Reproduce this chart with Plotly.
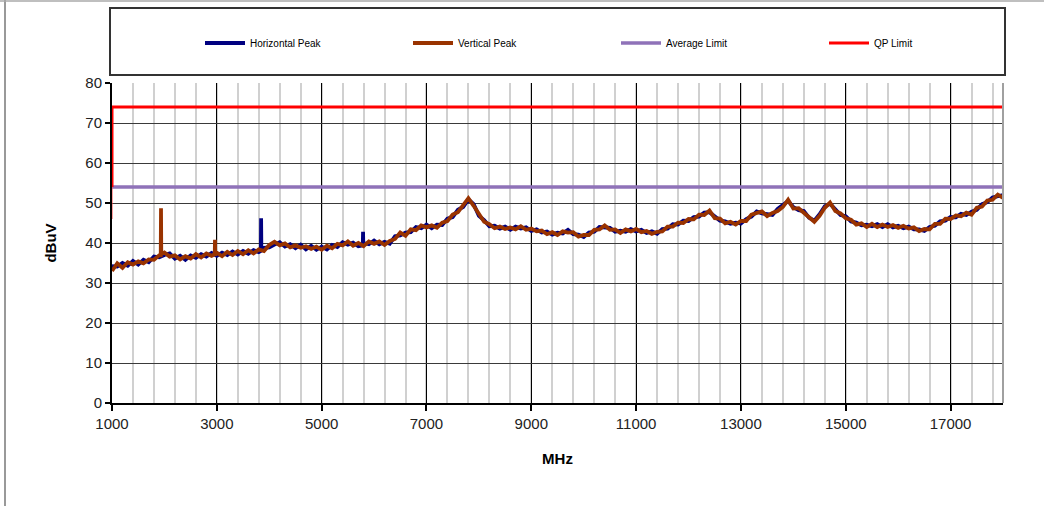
import plotly.graph_objects as go

# ---------------- data ----------------
FREQ_MHZ = list(range(1000, 18001, 100))

VERTICAL_PEAK = [
    33.0, 34.9, 33.8, 35.2, 34.6, 35.4, 34.9, 35.9, 35.8, 36.9,
    37.6, 36.6, 36.9, 35.9, 36.7, 36.1, 37.2, 36.4, 37.4, 36.8,
    37.6, 36.7, 37.8, 37.0, 38.0, 37.2, 38.2, 37.4, 38.4, 38.0,
    39.5, 40.3, 39.4, 39.9, 38.9, 39.4, 38.8, 39.2, 38.5, 39.1,
    38.3, 39.3, 38.7, 39.8, 39.4, 40.4, 39.3, 40.0, 39.2, 40.4,
    39.8, 40.4, 39.5, 40.5, 41.0, 42.6, 41.8, 43.4, 43.2, 44.4,
    43.9, 44.4, 43.8, 45.1, 45.5, 47.1, 47.7, 49.4, 51.2, 49.3,
    47.2, 45.3, 44.7, 43.7, 44.1, 43.5, 43.9, 43.4, 44.2, 43.3,
    43.6, 42.9, 43.1, 42.2, 42.7, 42.0, 42.9, 42.6, 42.7, 41.6,
    42.0, 42.0, 43.3, 43.4, 44.4, 43.3, 43.4, 42.5, 43.4, 42.9,
    43.5, 42.7, 43.0, 42.3, 42.8, 42.9, 44.1, 44.1, 45.1, 45.0,
    46.0, 45.9, 47.1, 47.0, 48.1, 46.2, 46.1, 44.9, 45.3, 44.6,
    45.5, 45.5, 47.1, 47.4, 47.9, 46.7, 47.5, 48.0, 49.0, 50.8,
    48.6, 48.7, 47.5, 46.6, 45.3, 46.8, 48.8, 50.1, 48.0, 47.4,
    46.2, 45.8, 44.6, 44.9, 44.0, 44.8, 44.0, 44.6, 44.0, 44.5,
    43.8, 44.3, 43.6, 43.9, 43.0, 43.5, 43.4, 44.8, 44.8, 46.1,
    46.0, 46.9, 46.7, 47.6, 47.1, 48.8, 49.1, 50.6, 50.8, 52.1,
    51.3,
]

HORIZONTAL_PEAK = [
    34.2, 34.1, 35.0, 34.3, 35.5, 34.6, 35.8, 35.2, 36.6, 36.4,
    37.0, 37.4, 36.1, 36.8, 35.8, 36.9, 36.3, 37.2, 36.6, 37.5,
    36.8, 37.6, 37.0, 37.9, 37.1, 38.0, 37.3, 38.2, 37.7, 38.8,
    38.9, 39.6, 40.2, 39.1, 39.7, 38.7, 39.6, 38.4, 39.3, 38.3,
    39.1, 38.4, 39.5, 39.0, 40.2, 39.6, 40.1, 39.2, 40.0, 39.7,
    40.6, 39.7, 40.3, 39.8, 41.7, 41.9, 42.6, 42.7, 44.0, 43.7,
    44.6, 43.7, 44.6, 44.5, 46.1, 46.5, 48.3, 49.0, 50.9, 49.7,
    46.8, 45.7, 44.2, 44.3, 43.6, 44.1, 43.3, 44.1, 43.6, 43.9,
    43.0, 43.4, 42.6, 42.9, 42.1, 42.6, 42.4, 43.3, 42.2, 42.1,
    41.5, 42.6, 42.8, 44.0, 43.9, 43.8, 42.8, 43.1, 42.8, 43.5,
    42.9, 43.3, 42.5, 42.9, 42.3, 43.5, 43.6, 44.7, 44.6, 45.6,
    45.5, 46.5, 46.6, 47.6, 47.7, 46.7, 45.6, 45.4, 44.8, 45.1,
    44.9, 46.0, 46.6, 47.9, 47.4, 47.2, 47.0, 48.5, 49.4, 50.5,
    49.0, 48.2, 48.0, 46.3, 45.6, 47.2, 49.2, 49.8, 48.4, 47.0,
    46.7, 45.4, 45.1, 44.4, 44.6, 44.2, 44.7, 44.0, 44.7, 43.9,
    44.3, 43.7, 44.1, 43.4, 43.4, 43.0, 44.0, 44.3, 45.4, 45.6,
    46.5, 46.4, 47.3, 47.0, 47.8, 48.3, 49.7, 50.2, 51.4, 51.6,
    52.0,
]

# narrow emissions (spikes)
VERT_SPIKE_MHZ = [1930, 1935, 1940, 2960, 2965, 2970]
VERT_SPIKE_DB = [36.9, 48.7, 37.2, 37.2, 40.8, 37.0]
HORZ_SPIKE_MHZ = [3840, 3845, 3850, 5785, 5790, 5795]
HORZ_SPIKE_DB = [38.0, 46.2, 38.3, 39.4, 42.8, 39.6]

AVG_LIMIT_MHZ = [1000, 18000]
AVG_LIMIT_DB = [54, 54]
QP_LIMIT_MHZ = [1000, 1000, 18000]
QP_LIMIT_DB = [54, 74, 74]
QP_LOW_MHZ = [1000, 1000]
QP_LOW_DB = [46, 54]

X_TICKS = [1000, 3000, 5000, 7000, 9000, 11000, 13000, 15000, 17000]
Y_TICKS = [0, 10, 20, 30, 40, 50, 60, 70, 80]


def merged(f_base, v_base, f_extra, v_extra):
    pts = sorted(zip(list(f_base) + list(f_extra), list(v_base) + list(v_extra)))
    return [p[0] for p in pts], [p[1] for p in pts]


hx, hy = merged(FREQ_MHZ, HORIZONTAL_PEAK, HORZ_SPIKE_MHZ, HORZ_SPIKE_DB)
vx, vy = merged(FREQ_MHZ, VERTICAL_PEAK, VERT_SPIKE_MHZ, VERT_SPIKE_DB)

FONT = "Liberation Sans, Arial, sans-serif"

fig = go.Figure()
fig.add_trace(go.Scatter(x=hx, y=hy, mode="lines", name="Horizontal Peak",
                         line=dict(color="#000080", width=3.8)))
fig.add_trace(go.Scatter(x=vx, y=vy, mode="lines", name="Vertical Peak",
                         line=dict(color="#993300", width=3.8)))
fig.add_trace(go.Scatter(x=AVG_LIMIT_MHZ, y=AVG_LIMIT_DB, mode="lines", name="Average Limit",
                         line=dict(color="#8F72B8", width=3.5)))
fig.add_trace(go.Scatter(x=QP_LIMIT_MHZ, y=QP_LIMIT_DB, mode="lines", name="QP Limit",
                         line=dict(color="#FF0000", width=3)))
fig.add_trace(go.Scatter(x=QP_LOW_MHZ, y=QP_LOW_DB, mode="lines", showlegend=False,
                         line=dict(color="#FF4040", width=1), hoverinfo="skip"))

L, R, T, B = 112, 41, 83, 103
W, H = 1044, 506
pw, ph = W - L - R, H - T - B


def px_x(p):
    return (p - L) / pw


def px_y(p):
    return (H - B - p) / ph


fig.update_layout(
    width=W, height=H,
    margin=dict(l=L, r=R, t=T, b=B, pad=0, autoexpand=False),
    paper_bgcolor="white", plot_bgcolor="white",
    font=dict(family=FONT, color="#000"),
    showlegend=True,
    legend=dict(orientation="h", x=px_x(200), xanchor="left", y=px_y(43), yanchor="middle",
                font=dict(size=10, family=FONT), entrywidth=153, entrywidthmode="pixels",
                bgcolor="rgba(0,0,0,0)", itemwidth=40, tracegroupgap=0),
    xaxis=dict(range=[1000, 18000], tickmode="array", tickvals=X_TICKS,
               ticktext=[str(t) for t in X_TICKS],
               showgrid=True, gridcolor="#000000", gridwidth=1,
               minor=dict(tick0=1000, dtick=400, showgrid=True, gridcolor="#D0D0D0", gridwidth=2),
               ticks="outside", ticklen=6, tickcolor="#000", tickwidth=1.5,
               showline=True, linecolor="#000", linewidth=2, zeroline=False,
               tickfont=dict(size=15, color="#222"),
               title=dict(text="<b>MHz</b>", font=dict(size=15), standoff=22)),
    yaxis=dict(range=[0, 80], tickmode="array", tickvals=Y_TICKS,
               showgrid=True, gridcolor="#3A3A3A", gridwidth=1.4,
               ticks="outside", ticklen=5, tickcolor="#000", tickwidth=1.5,
               showline=True, linecolor="#000", linewidth=2, zeroline=False,
               tickfont=dict(size=15, color="#222"),
               title=dict(text="<b>dBuV</b>", font=dict(size=15), standoff=25)),
    shapes=[
        # legend frame
        dict(type="rect", xref="paper", yref="paper",
             x0=px_x(110), x1=px_x(1005), y0=px_y(75), y1=px_y(8),
             line=dict(color="#333", width=2), fillcolor="rgba(0,0,0,0)", layer="below"),
        # right edge of plot area
        dict(type="line", xref="paper", yref="paper", x0=1, x1=1, y0=0, y1=1,
             line=dict(color="#A0A0A0", width=2)),
        # outer chart frame (left and top)
        dict(type="line", xref="paper", yref="paper", x0=px_x(5), x1=px_x(5),
             y0=px_y(506), y1=px_y(0), line=dict(color="#777", width=1.5)),
        dict(type="line", xref="paper", yref="paper", x0=px_x(0), x1=px_x(1044),
             y0=px_y(1), y1=px_y(1), line=dict(color="#AAA", width=1.5)),
    ],
)

fig.write_html("out.html")
